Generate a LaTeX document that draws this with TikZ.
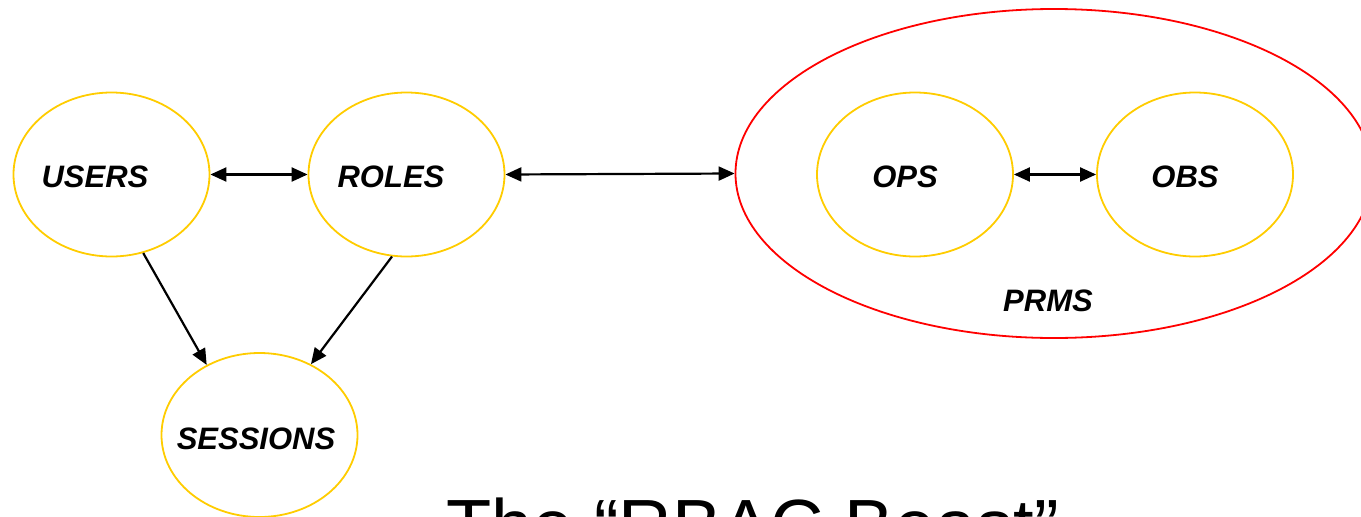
\documentclass[tikz,border=0pt]{standalone}
\usepackage{fontspec}
\setmainfont{Liberation Sans}
\usetikzlibrary{shapes.geometric,arrows.meta}
\definecolor{gold}{RGB}{255,204,0}
\definecolor{prmred}{RGB}{255,0,0}
\begin{document}
\begin{tikzpicture}[x=1pt,y=-1pt,
  setnode/.style={ellipse,draw=gold,line width=1.8pt,minimum width=196pt,minimum height=164pt,inner sep=0pt},
  outerset/.style={ellipse,draw=prmred,line width=1.8pt,minimum width=637pt,minimum height=329pt,inner sep=0pt},
  lbl/.style={font=\fontsize{31}{31}\selectfont\bfseries\itshape,inner sep=0pt,anchor=center},
  conn/.style={line width=2.2pt,-{Triangle[length=16pt,width=14pt]}},
  biconn/.style={line width=2.2pt,{Triangle[length=16pt,width=14pt]}-{Triangle[length=16pt,width=14pt]}}
]
\useasboundingbox (0,0) rectangle (1361,517);
\node[outerset] (prms) at (1054,173.5) {};
\node[setnode] (users) at (111.5,174.5) {};
\node[setnode] (roles) at (406.5,174.5) {};
\node[setnode] (sessions) at (259.5,435) {};
\node[setnode] (ops) at (915,174.5) {};
\node[setnode] (obs) at (1195,174.5) {};

\node[lbl] (usersl) at (95,176.5) {USERS};
\node[lbl] (rolesl) at (391,176.5) {ROLES};
\node[lbl] (sessionsl) at (256,438.5) {SESSIONS};
\node[lbl] (opsl) at (905,176.5) {OPS};
\node[lbl] (obsl) at (1185,176.5) {OBS};
\node[lbl] (prmsl) at (1048,301) {PRMS};

\draw[biconn] (users.east) -- (roles.west);
\draw[biconn] (roles.east) -- (prms.west);
\draw[biconn] (ops.east) -- (obs.west);
\draw[conn] (users.-68.5) -- (sessions.127);
\draw[conn] (roles.-100.6) -- (sessions.54);

\node[font=\fontsize{74}{74}\selectfont,inner sep=0pt,anchor=base west] (title) at (446,551) {The “RBAC Beast”};
\end{tikzpicture}
\end{document}
